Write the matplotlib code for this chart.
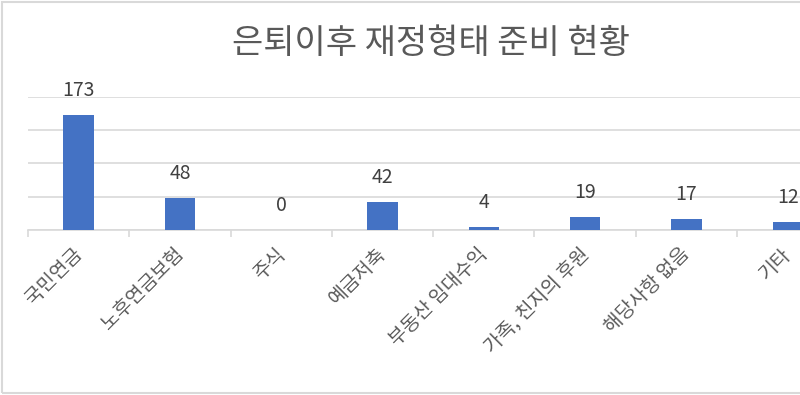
import matplotlib
matplotlib.use('Agg')
import matplotlib.pyplot as plt
import matplotlib.transforms as mtransforms
from matplotlib.patches import Rectangle

plt.rcParams['font.family'] = ['Noto Sans CJK KR', 'DejaVu Sans']

# Data
categories = ['국민연금', '노후연금보험', '주식', '예금저축', '부동산 임대수익',
              '가족, 친지의 후원', '해당사항 없음', '기타']
values = [173, 48, 0, 42, 4, 19, 17, 12]
title = '은퇴이후 재정형태 준비 현황'

fig = plt.figure(figsize=(8.0, 3.95), dpi=100)

# chart border (right side runs off the picture)
fig.patches.append(Rectangle((0.003, 0.005), 1.2, 0.99, transform=fig.transFigure,
                             fill=False, edgecolor='#d9d9d9', linewidth=1.5))

ax = fig.add_axes([0.035, 0.418, 1.013, 0.337])
x = list(range(len(categories)))
bars = ax.bar(x, values, width=0.3, color='#4472c4', zorder=3)

ax.set_xlim(-0.5, len(categories) - 0.5)
ax.set_ylim(0, 200)
ax.set_yticks([0, 50, 100, 150, 200])
ax.yaxis.grid(True, color='#d9d9d9', linewidth=1.2)
ax.tick_params(axis='y', length=0, labelleft=False)

for s in ['top', 'right', 'left']:
    ax.spines[s].set_visible(False)
ax.spines['bottom'].set_color('#d9d9d9')
ax.spines['bottom'].set_linewidth(1.2)

# category boundary ticks
ax.set_xticks([i - 0.5 for i in range(len(categories) + 1)])
ax.tick_params(axis='x', length=5, color='#d9d9d9', width=1.2, labelbottom=False)
ax.set_xticks(x, minor=True)
ax.set_xticklabels(categories, minor=True, rotation=45, ha='right',
                   rotation_mode='anchor', fontsize=14, color='#595959')
ax.tick_params(axis='x', which='minor', length=0, pad=10, labelbottom=True)
shift = mtransforms.ScaledTranslation(-7 / 100, 0, fig.dpi_scale_trans)
for lbl in ax.xaxis.get_minorticklabels():
    lbl.set_transform(lbl.get_transform() + shift)

for xi, v in zip(x, values):
    ax.annotate(str(v), (xi, v), xytext=(0, 10), textcoords='offset points',
                ha='center', va='bottom', fontsize=14, color='#404040')

fig.text(0.539, 0.89, title, ha='center', va='center', fontsize=24.5, color='#595959')

fig.savefig('out.png', dpi=100)
